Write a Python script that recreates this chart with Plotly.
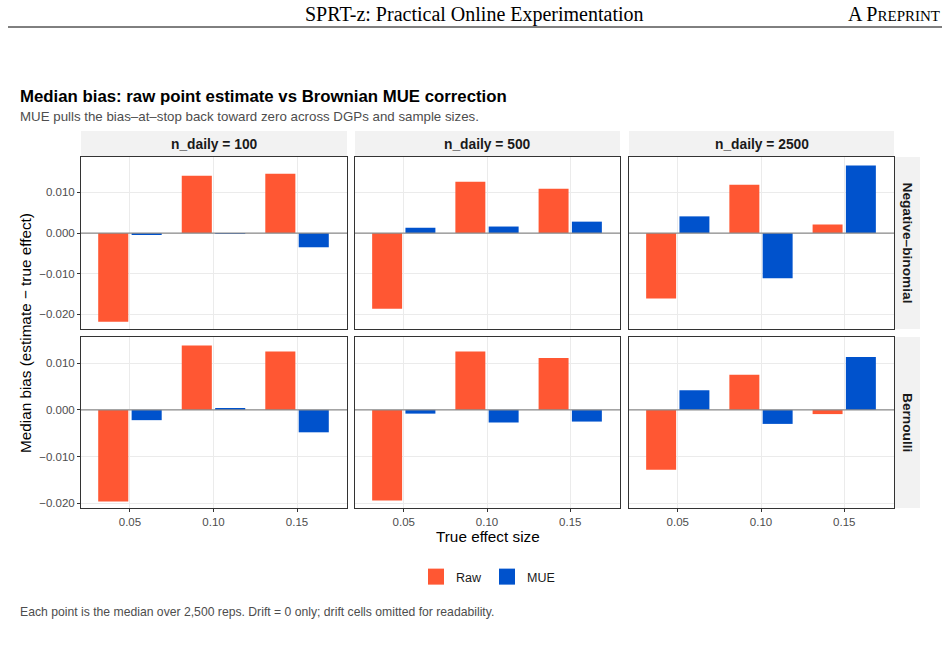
import plotly.graph_objects as go

W, H = 948, 671

# ---------------- data ----------------
effect_sizes = [0.05, 0.10, 0.15]
n_daily = [100, 500, 2500]
dgps = ["Negative\u2013binomial", "Bernoulli"]

# Negative-binomial row
nb_raw = {100: [-0.0218, 0.0141, 0.0146],
          500: [-0.0186, 0.0126, 0.0109],
          2500: [-0.0161, 0.0119, 0.0021]}
nb_mue = {100: [-0.0003, -0.0001, -0.0035],
          500: [0.0013, 0.0016, 0.0028],
          2500: [0.0041, -0.0111, 0.0166]}
# Bernoulli row
be_raw = {100: [-0.0196, 0.0138, 0.0125],
          500: [-0.0194, 0.0125, 0.0111],
          2500: [-0.0128, 0.0075, -0.0009]}
be_mue = {100: [-0.0022, 0.0003, -0.0048],
          500: [-0.0008, -0.0027, -0.0025],
          2500: [0.0042, -0.0030, 0.0113]}

raw_by_row = [nb_raw, be_raw]
mue_by_row = [nb_mue, be_mue]

y_ticks = [-0.02, -0.01, 0.0, 0.01]
y_tick_text = ["\u22120.020", "\u22120.010", "0.000", "0.010"]
x_tick_text = ["0.05", "0.10", "0.15"]

RAW_COL = "#FF5733"
MUE_COL = "#0052CC"

# ---------------- layout geometry (pixels) ----------------
col_px = [(81, 347), (355, 620), (629, 894)]
row_px = [(157, 329), (337, 508)]
row_ranges = [[-0.0236, 0.0187], [-0.0210, 0.0156]]
x_range = [0.0207, 0.1799]

def fx(px):
    return px / W

def fy(py):
    return 1 - py / H

SANS = "Liberation Sans, Arial, sans-serif"
SERIF = "Liberation Serif, Times New Roman, serif"

fig = go.Figure()
layout = {}
shapes = []
annotations = []

k = 0
for r in range(2):
    for c in range(3):
        k += 1
        xa = "x" if k == 1 else f"x{k}"
        ya = "y" if k == 1 else f"y{k}"
        xkey = "xaxis" if k == 1 else f"xaxis{k}"
        ykey = "yaxis" if k == 1 else f"yaxis{k}"
        nd = n_daily[c]
        fig.add_trace(go.Bar(
            x=effect_sizes, y=raw_by_row[r][nd], name="Raw",
            marker=dict(color=RAW_COL, line=dict(width=0)),
            width=0.018, offset=-0.0190,
            xaxis=xa, yaxis=ya, legendgroup="Raw",
            showlegend=False))
        fig.add_trace(go.Bar(
            x=effect_sizes, y=mue_by_row[r][nd], name="MUE",
            marker=dict(color=MUE_COL, line=dict(width=0)),
            width=0.018, offset=0.0010,
            xaxis=xa, yaxis=ya, legendgroup="MUE",
            showlegend=False))
        layout[xkey] = dict(
            domain=[fx(col_px[c][0]), fx(col_px[c][1])],
            anchor=ya, range=x_range,
            tickvals=effect_sizes, ticktext=x_tick_text,
            showticklabels=(r == 1),
            ticks="outside" if r == 1 else "", ticklen=3, tickcolor="#333333",
            showgrid=True, gridcolor="#EBEBEB", gridwidth=1,
            showline=True, linecolor="#333333", linewidth=1, mirror=True,
            zeroline=False,
            tickfont=dict(family=SANS, size=11.5, color="#4D4D4D"),
            fixedrange=True)
        layout[ykey] = dict(
            domain=[fy(row_px[r][1]), fy(row_px[r][0])],
            anchor=xa, range=row_ranges[r],
            tickvals=y_ticks, ticktext=y_tick_text,
            showticklabels=(c == 0),
            ticks="outside" if c == 0 else "", ticklen=3, tickcolor="#333333",
            showgrid=True, gridcolor="#EBEBEB", gridwidth=1,
            showline=True, linecolor="#333333", linewidth=1, mirror=True,
            zeroline=False,
            tickfont=dict(family=SANS, size=11.5, color="#4D4D4D"),
            fixedrange=True)
        # zero reference line
        shapes.append(dict(type="line", xref=f"{xa} domain", yref=ya,
                           x0=0, x1=1, y0=0, y1=0,
                           line=dict(color="#8C8C8C", width=1.2), layer="above"))

# legend entries (square keys)
for nm, colr in [("Raw", RAW_COL), ("MUE", MUE_COL)]:
    fig.add_trace(go.Scatter(
        x=[None], y=[None], mode="markers", name=nm,
        marker=dict(symbol="square", size=18, color=colr),
        legendgroup=nm, showlegend=True, xaxis="x", yaxis="y"))

# top strips
for c in range(3):
    shapes.append(dict(type="rect", xref="paper", yref="paper",
                       x0=fx(col_px[c][0]), x1=fx(col_px[c][1]),
                       y0=fy(156), y1=fy(131),
                       fillcolor="#F2F2F2", line=dict(width=0), layer="below"))
    annotations.append(dict(xref="paper", yref="paper",
                            x=fx((col_px[c][0] + col_px[c][1]) / 2), y=fy(144),
                            text=f"<b>n_daily = {n_daily[c]}</b>", showarrow=False,
                            xanchor="center", yanchor="middle",
                            font=dict(family=SANS, size=13.8, color="#1A1A1A")))
# right strips
for r in range(2):
    shapes.append(dict(type="rect", xref="paper", yref="paper",
                       x0=fx(895), x1=fx(920),
                       y0=fy(row_px[r][1]), y1=fy(row_px[r][0]),
                       fillcolor="#F2F2F2", line=dict(width=0), layer="below"))
    annotations.append(dict(xref="paper", yref="paper",
                            x=fx(907.5), y=fy((row_px[r][0] + row_px[r][1]) / 2),
                            text=f"<b>{dgps[r]}</b>", showarrow=False, textangle=90,
                            xanchor="center", yanchor="middle",
                            font=dict(family=SANS, size=13.7, color="#1A1A1A")))

# page header
annotations.append(dict(xref="paper", yref="paper", x=fx(474), y=fy(14),
                        text="SPRT-z: Practical Online Experimentation",
                        showarrow=False, xanchor="center", yanchor="middle",
                        font=dict(family=SERIF, size=20, color="#000000")))
annotations.append(dict(xref="paper", yref="paper", x=fx(942), y=fy(14),
                        text="A P<span style='font-size:15px'>REPRINT</span>",
                        showarrow=False, xanchor="right", yanchor="middle",
                        font=dict(family=SERIF, size=20, color="#000000")))
shapes.append(dict(type="line", xref="paper", yref="paper",
                   x0=fx(8), x1=fx(942), y0=fy(27), y1=fy(27),
                   line=dict(color="#000000", width=1)))

# title / subtitle
annotations.append(dict(xref="paper", yref="paper", x=fx(18), y=fy(96),
                        text="<b>Median bias: raw point estimate vs Brownian MUE correction</b>",
                        showarrow=False, xanchor="left", yanchor="middle",
                        font=dict(family=SANS, size=16.8, color="#000000")))
annotations.append(dict(xref="paper", yref="paper", x=fx(18), y=fy(117),
                        text="MUE pulls the bias\u2013at\u2013stop back toward zero across DGPs and sample sizes.",
                        showarrow=False, xanchor="left", yanchor="middle",
                        font=dict(family=SANS, size=13.3, color="#4D4D4D")))

# axis titles
annotations.append(dict(xref="paper", yref="paper", x=fx(25), y=fy(333),
                        text="Median bias (estimate \u2212 true effect)",
                        showarrow=False, textangle=-90, xanchor="center", yanchor="middle",
                        font=dict(family=SANS, size=15.3, color="#000000")))
annotations.append(dict(xref="paper", yref="paper", x=fx(488), y=fy(536),
                        text="True effect size",
                        showarrow=False, xanchor="center", yanchor="middle",
                        font=dict(family=SANS, size=15.3, color="#000000")))

# caption
annotations.append(dict(xref="paper", yref="paper", x=fx(18), y=fy(612),
                        text="Each point is the median over 2,500 reps. Drift = 0 only; drift cells omitted for readability.",
                        showarrow=False, xanchor="left", yanchor="middle",
                        font=dict(family=SANS, size=12.2, color="#4D4D4D")))

fig.update_layout(
    width=W, height=H,
    margin=dict(l=0, r=0, t=0, b=0),
    paper_bgcolor="white", plot_bgcolor="white",
    barmode="overlay",
    showlegend=True,
    legend=dict(orientation="h", x=fx(488), xanchor="center",
                y=fy(577), yanchor="middle",
                font=dict(family=SANS, size=12.5, color="#1A1A1A"),
                itemsizing="trace", itemwidth=30, traceorder="normal"),
    shapes=shapes, annotations=annotations,
    **layout)

fig.write_html("out.html")
